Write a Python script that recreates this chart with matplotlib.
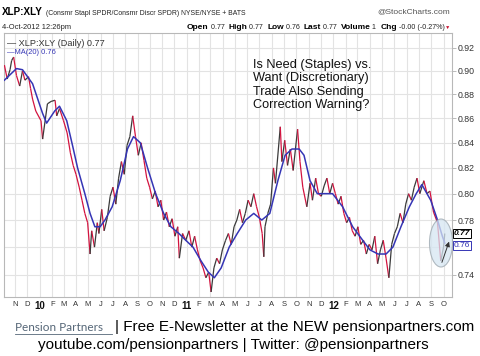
import numpy as np
import matplotlib
matplotlib.use("Agg")
import matplotlib.pyplot as plt
import matplotlib.dates as mdates
from matplotlib.collections import LineCollection
from matplotlib.patches import Ellipse, FancyArrowPatch
from matplotlib.lines import Line2D
import pandas as pd

# XLP:XLY daily close (roughly weekly samples)
close_dates = [
    "2009-10-05", "2009-10-12", "2009-10-19", "2009-10-23", "2009-10-28",
    "2009-11-04", "2009-11-12", "2009-11-19", "2009-11-25", "2009-12-04",
    "2009-12-09", "2009-12-14", "2009-12-22", "2010-01-04", "2010-01-08",
    "2010-01-20", "2010-01-29", "2010-02-08", "2010-02-12", "2010-02-19",
    "2010-03-01", "2010-03-10", "2010-03-18", "2010-03-25", "2010-04-01",
    "2010-04-09", "2010-04-16", "2010-04-23", "2010-04-30", "2010-05-06",
    "2010-05-10", "2010-05-17", "2010-05-24", "2010-05-28", "2010-06-04",
    "2010-06-10", "2010-06-18", "2010-06-25", "2010-07-02", "2010-07-09",
    "2010-07-16", "2010-07-23", "2010-07-30", "2010-08-06", "2010-08-13",
    "2010-08-20", "2010-08-27", "2010-09-03", "2010-09-10", "2010-09-17",
    "2010-09-24", "2010-10-01", "2010-10-08", "2010-10-15", "2010-10-22",
    "2010-10-29", "2010-11-05", "2010-11-12", "2010-11-19", "2010-11-26",
    "2010-12-03", "2010-12-10", "2010-12-14", "2010-12-22", "2010-12-30",
    "2011-01-07", "2011-01-14", "2011-01-21", "2011-01-28", "2011-02-04",
    "2011-02-11", "2011-02-18", "2011-02-25", "2011-03-03", "2011-03-10",
    "2011-03-17", "2011-03-24", "2011-03-31", "2011-04-08", "2011-04-15",
    "2011-04-22", "2011-04-29", "2011-05-06", "2011-05-13", "2011-05-20",
    "2011-05-27", "2011-06-03", "2011-06-10", "2011-06-17", "2011-06-24",
    "2011-07-01", "2011-07-08", "2011-07-12", "2011-07-15", "2011-07-22",
    "2011-07-29", "2011-08-05", "2011-08-10", "2011-08-22", "2011-08-26",
    "2011-09-02", "2011-09-09", "2011-09-16", "2011-09-23", "2011-10-04",
    "2011-10-10", "2011-10-17", "2011-10-27", "2011-11-04", "2011-11-10",
    "2011-11-18", "2011-11-25", "2011-12-02", "2011-12-09", "2011-12-16",
    "2011-12-23", "2011-12-30", "2012-01-06", "2012-01-13", "2012-01-20",
    "2012-01-27", "2012-02-03", "2012-02-10", "2012-02-17", "2012-02-24",
    "2012-03-02", "2012-03-09", "2012-03-16", "2012-03-23", "2012-03-30",
    "2012-04-06", "2012-04-13", "2012-04-20", "2012-04-27", "2012-05-04",
    "2012-05-11", "2012-05-18", "2012-05-25", "2012-06-01", "2012-06-08",
    "2012-06-15", "2012-06-22", "2012-06-29", "2012-07-06", "2012-07-13",
    "2012-07-20", "2012-07-27", "2012-08-03", "2012-08-13", "2012-08-21",
    "2012-08-28", "2012-09-06", "2012-09-16", "2012-09-24", "2012-10-01",
    "2012-10-04",
]
close_vals = [
    0.905, 0.893, 0.901, 0.909, 0.912,
    0.896, 0.887, 0.900, 0.892, 0.895,
    0.885, 0.876, 0.866, 0.858, 0.843,
    0.872, 0.874, 0.875, 0.862, 0.868,
    0.858, 0.848, 0.832, 0.822, 0.815,
    0.805, 0.795, 0.785, 0.778, 0.755,
    0.772, 0.760, 0.778, 0.770, 0.788,
    0.772, 0.782, 0.798, 0.805, 0.792,
    0.812, 0.825, 0.815, 0.838, 0.845,
    0.862, 0.845, 0.830, 0.840, 0.826,
    0.812, 0.805, 0.796, 0.802, 0.790,
    0.795, 0.780, 0.786, 0.775, 0.781,
    0.768, 0.775, 0.752, 0.770, 0.765,
    0.772, 0.760, 0.768, 0.758, 0.750,
    0.745, 0.738, 0.742, 0.728, 0.745,
    0.752, 0.748, 0.758, 0.765, 0.770,
    0.762, 0.775, 0.780, 0.788, 0.778,
    0.785, 0.795, 0.790, 0.800, 0.790,
    0.782, 0.770, 0.753, 0.775, 0.785,
    0.792, 0.820, 0.808, 0.853, 0.825,
    0.842, 0.822, 0.835, 0.818, 0.851,
    0.825, 0.805, 0.790, 0.808, 0.795,
    0.812, 0.800, 0.798, 0.806, 0.812,
    0.800, 0.808, 0.800, 0.792, 0.798,
    0.785, 0.778, 0.782, 0.772, 0.768,
    0.775, 0.762, 0.765, 0.755, 0.762,
    0.758, 0.768, 0.748, 0.758, 0.765,
    0.752, 0.738, 0.762, 0.770, 0.775,
    0.785, 0.778, 0.792, 0.800, 0.795,
    0.805, 0.812, 0.800, 0.810, 0.800,
    0.802, 0.786, 0.778, 0.750, 0.760,
    0.770,
]

# MA(20)
ma_dates = [
    "2009-10-05", "2009-11-04", "2009-11-19", "2009-12-14", "2010-01-08",
    "2010-01-18", "2010-02-07", "2010-02-19", "2010-03-09", "2010-03-24",
    "2010-04-05", "2010-04-23", "2010-05-06", "2010-05-18", "2010-05-31",
    "2010-06-12", "2010-06-30", "2010-07-20", "2010-08-07", "2010-08-22",
    "2010-09-08", "2010-09-26", "2010-10-16", "2010-11-05", "2010-11-23",
    "2010-12-13", "2010-12-30", "2011-01-17", "2011-02-06", "2011-02-24",
    "2011-03-11", "2011-03-28", "2011-04-17", "2011-05-07", "2011-05-28",
    "2011-06-17", "2011-07-07", "2011-07-27", "2011-08-16", "2011-09-03",
    "2011-09-20", "2011-10-08", "2011-10-20", "2011-11-04", "2011-11-22",
    "2011-12-10", "2011-12-30", "2012-01-24", "2012-02-18", "2012-03-14",
    "2012-04-01", "2012-04-21", "2012-05-11", "2012-05-28", "2012-06-17",
    "2012-07-08", "2012-07-25", "2012-08-08", "2012-08-30", "2012-09-16",
    "2012-09-28", "2012-10-04",
]
ma_vals = [
    0.892, 0.902, 0.901, 0.889, 0.864,
    0.856, 0.866, 0.870, 0.858, 0.837,
    0.820, 0.800, 0.785, 0.775, 0.775,
    0.780, 0.790, 0.810, 0.835, 0.845,
    0.840, 0.820, 0.800, 0.785, 0.775,
    0.770, 0.765, 0.760, 0.750, 0.742,
    0.738, 0.745, 0.760, 0.770, 0.780,
    0.785, 0.780, 0.785, 0.810, 0.830,
    0.835, 0.835, 0.830, 0.810, 0.800,
    0.800, 0.800, 0.790, 0.775, 0.765,
    0.758, 0.755, 0.755, 0.760, 0.775,
    0.790, 0.800, 0.807, 0.795, 0.780,
    0.768, 0.763,
]

y_ticks = [0.74, 0.76, 0.78, 0.80, 0.82, 0.84, 0.86, 0.88, 0.90, 0.92]
last_close = 0.77
last_ma = 0.76

ARIAL = ["Liberation Sans", "DejaVu Sans"]
W, H = 480, 356
BLUE = "#3535b5"


def fx(px):
    return px / W


def fy(py):
    return 1 - py / H


def text_run(fig, x0, y0, pieces, width=None):
    # draw text pieces one after another on one baseline,
    # optionally scaled so the whole run spans `width` pixels
    r = fig.canvas.get_renderer()
    scale = 1.0
    for attempt in range(2):
        x = x0
        drawn = []
        for s, size, weight, color in pieces:
            t = fig.text(fx(x), fy(y0), s, fontsize=size * scale, fontweight=weight,
                         color=color, family=ARIAL, va="baseline", ha="left")
            drawn.append(t)
            x += t.get_window_extent(renderer=r).width
        if width is None or attempt == 1:
            break
        scale = width / (x - x0)
        for t in drawn:
            t.remove()


def main():
    fig = plt.figure(figsize=(W / 100, H / 100), dpi=100)
    ax = fig.add_axes([fx(4), fy(297), fx(452 - 4), (297 - 33) / H])

    cd = mdates.date2num(pd.to_datetime(close_dates))
    cv = np.array(close_vals)
    md = mdates.date2num(pd.to_datetime(ma_dates))

    pts = np.column_stack([cd, cv])
    segs = np.stack([pts[:-1], pts[1:]], axis=1)
    cols = ["#d3133f" if b < a else "#3a3a3a" for a, b in zip(cv[:-1], cv[1:])]
    ax.add_collection(LineCollection(segs, colors=cols, linewidths=0.9, zorder=3))
    ax.plot(md, ma_vals, color=BLUE, lw=1.1, zorder=4)

    ax.set_yscale("log")
    ax.set_ylim(0.7245, 0.9333)
    ax.set_xlim(mdates.date2num(pd.Timestamp("2009-10-04")),
                mdates.date2num(pd.Timestamp("2012-10-22")))

    # 0.76 label is hidden behind the MA value box
    ax.yaxis.set_major_locator(matplotlib.ticker.FixedLocator(y_ticks))
    ax.yaxis.set_minor_locator(matplotlib.ticker.NullLocator())
    ax.yaxis.set_major_formatter(matplotlib.ticker.FixedFormatter(
        ["" if v == last_ma else f"{v:.2f}" for v in y_ticks]))
    ax.yaxis.tick_right()
    ax.tick_params(axis="y", length=3, width=0.6, color="#b0b0b0", pad=1,
                   labelsize=6.3, labelcolor="#333333")
    for lab in ax.get_yticklabels():
        lab.set_family(ARIAL)

    months = pd.date_range("2009-11-01", "2012-10-01", freq="MS")
    ax.set_xticks(mdates.date2num(months))
    ax.set_xticklabels([f"{m.year % 100}" if m.month == 1 else m.strftime("%b")[0]
                        for m in months])
    ax.tick_params(axis="x", length=0, pad=3, labelsize=5.5, labelcolor="#333333")
    for lab, m in zip(ax.get_xticklabels(), months):
        lab.set_family(ARIAL)
        if m.month == 1:
            lab.set_fontweight("bold")
            lab.set_fontsize(7)
            lab.set_color("#111111")

    ax.grid(True, color="#e3e3e3", lw=0.8, zorder=0)
    for s in ax.spines.values():
        s.set_color("#b8b8b8")
        s.set_linewidth(0.8)

    # legend in the corner
    ax.text(0.006, 0.978, "\u2014 XLP:XLY (Daily) 0.77", transform=ax.transAxes,
            fontsize=6.6, color="#333333", va="top", ha="left", family=ARIAL)
    ax.text(0.006, 0.94, "\u2014MA(20) 0.76", transform=ax.transAxes,
            fontsize=5.4, color=BLUE, va="top", ha="left", family=ARIAL)

    ax.text(0.556, 0.9, "Is Need (Staples) vs.\nWant (Discretionary)\n"
            "Trade Also Sending\nCorrection Warning?", transform=ax.transAxes,
            fontsize=9.2, va="top", ha="left", family=ARIAL, linespacing=1.12,
            color="#111111")

    # circled last bars + arrow
    ell = Ellipse((fx(441), fy(243)), 23 / W, 48 / H, transform=fig.transFigure,
                  facecolor="#d6e6f2", edgecolor="#9aa5ad", lw=0.8, alpha=0.75,
                  zorder=5)
    fig.add_artist(ell)
    fig.add_artist(FancyArrowPatch(
        (fx(441), fy(265)), (fx(450), fy(239)), transform=fig.transFigure,
        arrowstyle="-|>", mutation_scale=7, color="#333333", lw=0.7, zorder=6))

    # last value boxes on the price scale
    ax.text(1.004, last_close, f"{last_close:.2f}", transform=ax.get_yaxis_transform(),
            fontsize=6, fontweight="bold", fontstyle="italic", va="center",
            ha="left", family=ARIAL, color="black",
            bbox=dict(boxstyle="square,pad=0.12", fc="white", ec="black", lw=0.7))
    ax.text(1.004, last_ma + 0.001, f"{last_ma:.2f}", transform=ax.get_yaxis_transform(),
            fontsize=6, va="center", ha="left", family=ARIAL, color=BLUE,
            bbox=dict(boxstyle="square,pad=0.12", fc="white", ec=BLUE, lw=0.7))

    # header
    text_run(fig, 2, 15, [("XLP:XLY", 9, "bold", "black")], width=41)
    text_run(fig, 46, 15, [("(Consmr Stapl SPDR/Consmr Discr SPDR) NYSE/NYSE + BATS",
                            6, "normal", "#222222")], width=200)
    fig.text(fx(450), fy(13), "@StockCharts.com", fontsize=6, color="#555555",
             ha="right", va="baseline", family=ARIAL)
    text_run(fig, 2, 29, [("4-Oct-2012 12:26pm", 6, "normal", "#222222")], width=70)
    text_run(fig, 187, 29, [
        ("Open", 7, "bold", "black"), (" 0.77  ", 6, "normal", "#222222"),
        ("High", 7, "bold", "black"), (" 0.77  ", 6, "normal", "#222222"),
        ("Low", 7, "bold", "black"), (" 0.76  ", 6, "normal", "#222222"),
        ("Last", 7, "bold", "black"), (" 0.77  ", 6, "normal", "#222222"),
        ("Volume", 7, "bold", "black"), (" 1  ", 6, "normal", "#222222"),
        ("Chg", 7, "bold", "black"), (" -0.00 (-0.27%)", 6, "normal", "#222222"),
        ("\u25bc", 4.5, "normal", "#c8102e"),
    ], width=263)

    # footer
    fig.text(fx(15), fy(331), "Pension Partners", fontsize=8.5, color="#556677",
             ha="left", va="baseline", family=["Lato", "DejaVu Sans"])
    fig.add_artist(Line2D([fx(15), fx(112)], [fy(334), fy(334)],
                          color="#556677", lw=0.6))
    fig.text(fx(115), fy(331), "| Free E-Newsletter at the NEW pensionpartners.com",
             fontsize=11, color="black", ha="left", va="baseline", family=ARIAL)
    fig.text(fx(233), fy(349), "youtube.com/pensionpartners | Twitter: @pensionpartners",
             fontsize=11, color="black", ha="center", va="baseline", family=ARIAL)

    fig.savefig("out.png", dpi=100, facecolor="white")
    plt.close(fig)


if __name__ == "__main__":
    main()
